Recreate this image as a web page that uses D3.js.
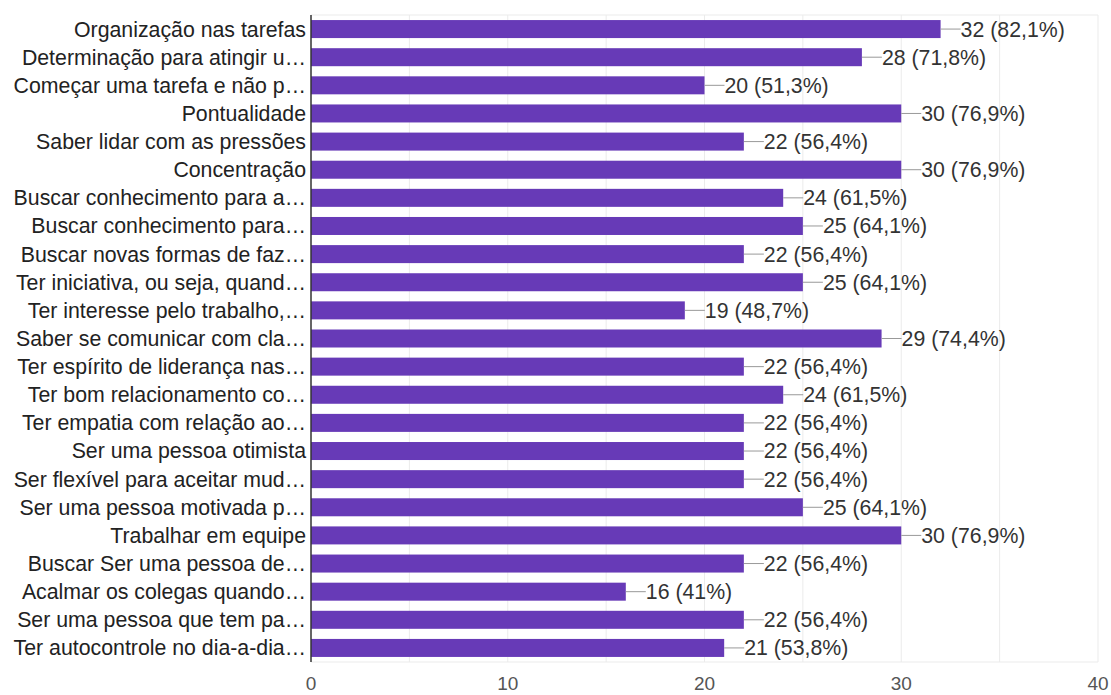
<!DOCTYPE html>
<html>
<head>
<meta charset="utf-8">
<script src="https://cdn.jsdelivr.net/npm/d3@7"></script>
<style>
  body { margin: 0; background: #fff; }
  svg text { font-family: "Liberation Sans", Arial, sans-serif; }
</style>
</head>
<body>
<figure id="chart" style="margin:0"></figure>
<script>
// categories as shown (truncated like the original)
const labels = [
  "Organização nas tarefas",
  "Determinação para atingir u…",
  "Começar uma tarefa e não p…",
  "Pontualidade",
  "Saber lidar com as pressões",
  "Concentração",
  "Buscar conhecimento para a…",
  "Buscar conhecimento para…",
  "Buscar novas formas de faz…",
  "Ter iniciativa, ou seja, quand…",
  "Ter interesse pelo trabalho,…",
  "Saber se comunicar com cla…",
  "Ter espírito de liderança nas…",
  "Ter bom relacionamento co…",
  "Ter empatia com relação ao…",
  "Ser uma pessoa otimista",
  "Ser flexível para aceitar mud…",
  "Ser uma pessoa motivada p…",
  "Trabalhar em equipe",
  "Buscar Ser uma pessoa de…",
  "Acalmar os colegas quando…",
  "Ser uma pessoa que tem pa…",
  "Ter autocontrole no dia-a-dia…"
];
const counts = [32, 28, 20, 30, 22, 30, 24, 25, 22, 25, 19, 29, 22, 24, 22, 22, 22, 25, 30, 22, 16, 22, 21];
const percents = ["82,1%", "71,8%", "51,3%", "76,9%", "56,4%", "76,9%", "61,5%", "64,1%", "56,4%", "64,1%", "48,7%", "74,4%", "56,4%", "61,5%", "56,4%", "56,4%", "56,4%", "64,1%", "76,9%", "56,4%", "41%", "56,4%", "53,8%"];
const xTicks = [0, 10, 20, 30, 40];
const gridTicks = [5, 10, 15, 20, 25, 30, 35, 40];

const data = labels.map((l, i) => ({label: l, count: counts[i], pct: percents[i]}));

const margin = {top: 15, right: 13, bottom: 33, left: 311},
  width = 1111 - margin.left - margin.right,
  height = 695 - margin.top - margin.bottom;

const fontSize = 21.3;

const svg = d3.select("figure#chart")
  .append("svg")
  .attr("width", 1111)
  .attr("height", 695)
  .append("g")
  .attr("transform", "translate(" + margin.left + "," + margin.top + ")");

const x = d3.scaleLinear().domain([0, 40]).range([0, width]);
const y = d3.scaleBand().domain(labels).range([0, height]).paddingInner(0.36).paddingOuter(0.18);

// grid
svg.append("g")
  .selectAll("line")
  .data(gridTicks)
  .enter().append("line")
  .attr("x1", d => x(d)).attr("x2", d => x(d))
  .attr("y1", 0).attr("y2", height)
  .attr("stroke", "#ebebeb");
svg.append("line")
  .attr("x1", 0).attr("x2", width).attr("y1", 0).attr("y2", 0)
  .attr("stroke", "#ebebeb");
svg.append("line")
  .attr("x1", 0).attr("x2", width).attr("y1", height).attr("y2", height)
  .attr("stroke", "#ebebeb");

// bars
svg.append("g")
  .selectAll("rect")
  .data(data)
  .enter().append("rect")
  .attr("x", 0)
  .attr("y", d => y(d.label))
  .attr("width", d => x(d.count))
  .attr("height", y.bandwidth())
  .attr("fill", "#673ab7");

// value annotations
const ann = svg.append("g").selectAll("g")
  .data(data)
  .enter().append("g")
  .attr("transform", d => `translate(${x(d.count)},${y(d.label) + y.bandwidth() / 2})`);
ann.append("line")
  .attr("x1", 0).attr("x2", 20).attr("y1", 0).attr("y2", 0)
  .attr("stroke", "#999").attr("stroke-width", 1);
ann.append("text")
  .attr("x", 20).attr("dy", "0.35em")
  .attr("font-size", fontSize)
  .attr("fill", "#333")
  .text(d => `${d.count} (${d.pct})`);

// category labels
svg.append("g")
  .selectAll("text")
  .data(data)
  .enter().append("text")
  .attr("x", -5)
  .attr("y", d => y(d.label) + y.bandwidth() / 2)
  .attr("dy", "0.35em")
  .attr("text-anchor", "end")
  .attr("font-size", fontSize)
  .attr("fill", "#222")
  .text(d => d.label);

// axis line
svg.append("line")
  .attr("x1", 0).attr("x2", 0).attr("y1", 0).attr("y2", height)
  .attr("stroke", "#333").attr("stroke-width", 1.5);

// x tick labels
svg.append("g")
  .selectAll("text")
  .data(xTicks)
  .enter().append("text")
  .attr("x", d => x(d))
  .attr("y", height + 28)
  .attr("text-anchor", "middle")
  .attr("font-size", 19)
  .attr("fill", "#555")
  .text(d => d);
</script>
</body>
</html>
